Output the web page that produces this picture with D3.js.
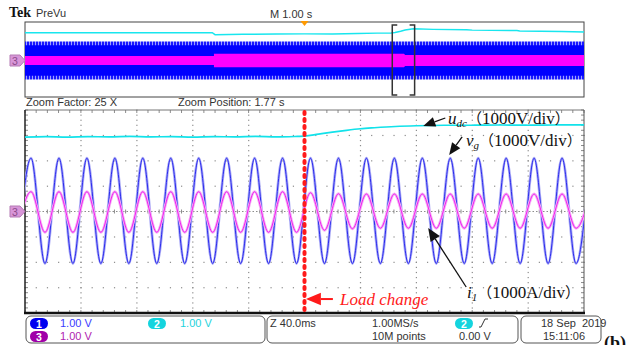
<!DOCTYPE html>
<html>
<head>
<meta charset="utf-8">
<script src="https://cdn.jsdelivr.net/npm/d3@7"></script>
<style>
  body { margin: 0; background: #fff; }
  svg { display: block; }
</style>
</head>
<body>
<svg id="chart" width="630" height="345" font-family="Liberation Sans, Arial, sans-serif"></svg>
<script>
// ---- data (time in ms for the zoom window, s for the overview; values in divisions) ----
// extrema of each half cycle, first one is the trough at -5.7 ms, then every 10 ms
const extremaStart = -5.7;
const halfPeriod = 10;
const vgExtrema = [-2.05, 2.1, -2.05, 2.1, -2.05, 2.1, -2.05, 2.1, -2.05, 2.1,
                   -2.05, 2.1, -2.05, 2.1, -2.05, 2.1, -2.05, 2.1, -2.05, 2.1,
                   -2.05, 2.1, -2.05, 2.1, -2.05, 2.1, -2.05, 2.1, -2.05, 2.1,
                   -2.05, 2.1, -2.05, 2.1, -2.05, 2.1, -2.05, 2.1, -2.05, 2.1,
                   -2.05, 2.1];
const i1Extrema = [-0.82, 0.78, -0.82, 0.78, -0.82, 0.78, -0.82, 0.78, -0.82, 0.78,
                   -0.82, 0.78, -0.82, 0.78, -0.82, 0.78, -0.82, 0.78, -0.82, 0.78,
                   -0.82, 0.74, -0.74, 0.7, -0.68, 0.69, -0.66, 0.69, -0.66, 0.69,
                   -0.66, 0.69, -0.66, 0.69, -0.66, 0.69, -0.66, 0.69, -0.66, 0.69,
                   -0.66, 0.69];
const udcTime = [0, 15, 30, 45, 60, 75, 90, 105, 120, 135, 150, 165, 180, 195,
                 200, 210, 220, 230, 240, 250, 265, 280, 300, 320, 340, 360, 380, 400];
const udcValue = [2.93, 2.95, 2.93, 2.95, 2.94, 2.96, 2.94, 2.95, 2.93, 2.95, 2.94, 2.96, 2.94, 2.96,
                  2.97, 3.05, 3.13, 3.2, 3.26, 3.3, 3.35, 3.38, 3.4, 3.4, 3.41, 3.4, 3.41, 3.41];
const loadChangeTime = 200;

// overview (PreVu) record, 0..10 s
const ovUdcTime = [0, 3.35, 3.4, 3.9, 4.5, 5.0, 5.5, 5.95, 6.3, 6.55, 6.62, 6.72, 6.8, 6.95,
                   7.3, 7.9, 8.0, 8.8, 8.85, 9.6, 10];
const ovUdcValue = [2.96, 2.96, 2.76, 2.8, 2.82, 2.84, 2.84, 2.88, 2.92, 2.94, 2.98, 3.12, 3.26, 3.38,
                    3.32, 3.28, 3.24, 3.2, 3.15, 3.1, 3.05];
const ovVgTime = [0, 10];
const ovVgAmp = [2.03, 2.03];
const ovI1Time = [0, 3.38, 3.38, 6.78, 6.8, 10];
const ovI1Amp = [0.47, 0.47, 0.72, 0.72, 0.58, 0.58];
const zoomWindow = [6.57, 6.97];
const triggerTime = 5.0;

// readout texts
const chanScales = ["1.00 V", "1.00 V", "1.00 V"];
const timeTexts = ["Z 40.0ms", "1.00MS/s", "10M points", "0.00 V"];
const dateTexts = ["18 Sep  2019", "15:11:06"];

const SERIF = "Liberation Serif, Times New Roman, serif";
const CJK = "Noto Sans CJK SC, sans-serif";

// ---- layout ----
const svg = d3.select("#chart");
const plot = {left: 25, right: 584, top: 110, bottom: 313};
const x = d3.scaleLinear().domain([0, 400]).range([plot.left, plot.right]);
const y = d3.scaleLinear().domain([-4, 4]).range([plot.bottom, plot.top]);
const ox = d3.scaleLinear().domain([0, 10]).range([plot.left, plot.right]);
const oy = d3.scaleLinear().domain([-4, 4]).range([98, 23]);

const defs = svg.append("defs");
defs.append("clipPath").attr("id", "clipMain")
  .append("rect").attr("x", plot.left).attr("y", plot.top)
  .attr("width", plot.right - plot.left).attr("height", plot.bottom - plot.top);
const stripes = defs.append("pattern").attr("id", "stripes")
  .attr("width", 3).attr("height", 4).attr("patternUnits", "userSpaceOnUse");
stripes.append("rect").attr("width", 3).attr("height", 4).attr("fill", "#a0a0ff");
stripes.append("rect").attr("width", 2).attr("height", 4).attr("fill", "#1818ff");

// ---- header ----
svg.append("text").attr("x", 9).attr("y", 17).attr("font-family", SERIF)
  .attr("font-weight", "bold").attr("font-size", 14).attr("fill", "#111").text("Tek");
svg.append("text").attr("x", 36).attr("y", 17).attr("font-size", 11).attr("fill", "#333").text("PreVu");
svg.append("text").attr("x", 270).attr("y", 18).attr("font-size", 11).attr("fill", "#333").text("M 1.00 s");

// ---- overview ----
const ov = svg.append("g");
ov.append("rect").attr("x", plot.left).attr("y", 22).attr("width", plot.right - plot.left).attr("height", 75)
  .attr("fill", "#fff").attr("stroke", "#444").attr("stroke-width", 1);

const ovVgData = ovVgTime.map((t, i) => ({t, a: ovVgAmp[i]}));
ov.append("path").datum(ovVgData).attr("fill", "url(#stripes)")
  .attr("d", d3.area().x(d => ox(d.t)).y0(d => oy(-d.a)).y1(d => oy(d.a)));
ov.append("path").datum(ovVgData).attr("fill", "#0000ff")
  .attr("d", d3.area().x(d => ox(d.t)).y0(d => oy(-d.a + 0.4)).y1(d => oy(d.a - 0.4)));

const ovI1Data = ovI1Time.map((t, i) => ({t, a: ovI1Amp[i]}));
ov.append("path").datum(ovI1Data).attr("fill", "#ff00ff")
  .attr("d", d3.area().x(d => ox(d.t)).y0(d => oy(-d.a)).y1(d => oy(d.a)));

const ovUdcData = ovUdcTime.map((t, i) => ({t, v: ovUdcValue[i]}));
ov.append("path").datum(ovUdcData).attr("fill", "none").attr("stroke", "#18e6ee").attr("stroke-width", 1.5)
  .attr("d", d3.line().x(d => ox(d.t)).y(d => oy(d.v)));

// zoom bracket
zoomWindow.forEach((t, i) => {
  const bx = ox(t), dir = i === 0 ? 1 : -1;
  ov.append("path").attr("fill", "none").attr("stroke", "#333").attr("stroke-width", 1.5)
    .attr("d", `M${bx + dir * 5},25H${bx}V95H${bx + dir * 5}`);
});
// trigger marker
const tx = ox(triggerTime);
ov.append("path").attr("fill", "#ff9a00").attr("d", `M${tx - 4},21L${tx + 4},21L${tx},26Z`);

function chanMarker(cy) {
  svg.append("path").attr("fill", "#d896d8").attr("stroke", "#b47ab4")
    .attr("d", `M10,${cy - 5.5}H20L25,${cy}L20,${cy + 5.5}H10Z`);
  svg.append("text").attr("x", 15).attr("y", cy + 4).attr("text-anchor", "middle")
    .attr("font-size", 10.5).attr("fill", "#8a4a8a").text("3");
}
chanMarker(oy(0));

svg.append("text").attr("x", 26).attr("y", 106).attr("font-size", 11).attr("fill", "#333").text("Zoom Factor: 25 X");
svg.append("text").attr("x", 178).attr("y", 106).attr("font-size", 11).attr("fill", "#333").text("Zoom Position: 1.77 s");

// ---- main graticule ----
const grid = svg.append("g");
const minorX = d3.range(0, 400.001, 8);
const minorY = d3.range(-4, 4.001, 0.2);
const majorX = d3.range(40, 361, 40).filter(t => t !== 200);
const majorY = [-3, -2, -1, 1, 2, 3];
const gridCol = "#8c8c8c";

majorX.forEach(t => {
  grid.selectAll(null).data(minorY).enter().append("rect")
    .attr("x", x(t) - 0.5).attr("y", d => y(d) - 0.5).attr("width", 1.2).attr("height", 1.2).attr("fill", gridCol);
});
majorY.forEach(v => {
  grid.selectAll(null).data(minorX).enter().append("rect")
    .attr("x", d => x(d) - 0.5).attr("y", y(v) - 0.5).attr("width", 1.2).attr("height", 1.2).attr("fill", gridCol);
});
// centre lines
grid.append("line").attr("x1", plot.left).attr("x2", plot.right).attr("y1", y(0)).attr("y2", y(0))
  .attr("stroke", gridCol).attr("stroke-dasharray", "1.5,2");
grid.selectAll(null).data(minorX).enter().append("line")
  .attr("x1", d => x(d)).attr("x2", d => x(d)).attr("y1", y(0) - 2).attr("y2", y(0) + 2).attr("stroke", gridCol);
grid.append("line").attr("x1", x(200)).attr("x2", x(200)).attr("y1", plot.top).attr("y2", plot.bottom)
  .attr("stroke", gridCol).attr("stroke-dasharray", "1.5,2");
// border ticks
grid.selectAll(null).data(minorX).enter().append("line")
  .attr("x1", d => x(d)).attr("x2", d => x(d)).attr("y1", plot.top).attr("y2", plot.top + 3).attr("stroke", gridCol);
grid.selectAll(null).data(minorX).enter().append("line")
  .attr("x1", d => x(d)).attr("x2", d => x(d)).attr("y1", plot.bottom - 3).attr("y2", plot.bottom).attr("stroke", gridCol);
grid.selectAll(null).data(minorY).enter().append("line")
  .attr("x1", plot.left).attr("x2", plot.left + 3).attr("y1", d => y(d)).attr("y2", d => y(d)).attr("stroke", gridCol);
grid.selectAll(null).data(minorY).enter().append("line")
  .attr("x1", plot.right - 3).attr("x2", plot.right).attr("y1", d => y(d)).attr("y2", d => y(d)).attr("stroke", gridCol);
// frame
grid.append("line").attr("x1", plot.left).attr("x2", plot.right).attr("y1", plot.top).attr("y2", plot.top).attr("stroke", "#777");
grid.append("line").attr("x1", plot.right).attr("x2", plot.right).attr("y1", plot.top).attr("y2", plot.bottom).attr("stroke", "#555");
grid.append("line").attr("x1", plot.left).attr("x2", plot.left).attr("y1", plot.top).attr("y2", plot.bottom)
  .attr("stroke", "#222").attr("stroke-width", 1.5);
grid.append("line").attr("x1", plot.left - 1).attr("x2", plot.right + 1).attr("y1", plot.bottom).attr("y2", plot.bottom)
  .attr("stroke", "#111").attr("stroke-width", 2.5);

chanMarker(y(0));

// ---- traces ----
const traces = svg.append("g").attr("clip-path", "url(#clipMain)");
const waveLine = d3.line().x(d => x(d.t)).y(d => y(d.v)).curve(d3.curveMonotoneX);
function extremaPoints(arr) {
  return arr.map((v, i) => ({t: extremaStart + i * halfPeriod, v}));
}
function drawWave(arr, light, dark) {
  const pts = extremaPoints(arr);
  traces.append("path").datum(pts).attr("fill", "none").attr("stroke", light).attr("stroke-width", 2.8).attr("d", waveLine);
  traces.append("path").datum(pts).attr("fill", "none").attr("stroke", dark).attr("stroke-width", 1).attr("d", waveLine);
}
drawWave(vgExtrema, "#aeaef6", "#2a2aee");
drawWave(i1Extrema, "#f6b0f6", "#f020f0");

const udcData = udcTime.map((t, i) => ({t, v: udcValue[i]}));
traces.append("path").datum(udcData).attr("fill", "none").attr("stroke", "#12e2ea").attr("stroke-width", 1.7)
  .attr("d", d3.line().x(d => x(d.t)).y(d => y(d.v)).curve(d3.curveMonotoneX));

// load change marker
svg.append("line").attr("x1", x(loadChangeTime)).attr("x2", x(loadChangeTime))
  .attr("y1", plot.top + 2).attr("y2", plot.bottom)
  .attr("stroke", "#ff1a1a").attr("stroke-width", 4).attr("stroke-linecap", "round").attr("stroke-dasharray", "2,5");

// ---- annotations ----
function arrow(x1, y1, x2, y2, color, head, width) {
  const a = Math.atan2(y2 - y1, x2 - x1);
  const bx = x2 - head * Math.cos(a), by = y2 - head * Math.sin(a);
  const w = head * 0.42;
  svg.append("line").attr("x1", x1).attr("y1", y1).attr("x2", bx).attr("y2", by)
    .attr("stroke", color).attr("stroke-width", width);
  svg.append("path").attr("fill", color)
    .attr("d", `M${x2},${y2}L${bx - w * Math.sin(a)},${by + w * Math.cos(a)}L${bx + w * Math.sin(a)},${by - w * Math.cos(a)}Z`);
}
function label(lx, ly, main, sub, scale) {
  const t = svg.append("text").attr("x", lx).attr("y", ly).attr("fill", "#111")
    .attr("font-family", SERIF).attr("font-size", 17);
  t.append("tspan").attr("font-style", "italic").text(main);
  t.append("tspan").attr("font-style", "italic").attr("font-size", 11).attr("dy", 3).text(sub);
  t.append("tspan").attr("dy", -3).attr("font-family", CJK).attr("font-size", 15).text("（");
  t.append("tspan").text(scale);
  t.append("tspan").attr("font-family", CJK).attr("font-size", 15).text("）");
}
arrow(x(285) + 22, y(3.37) - 8, x(285), y(3.37), "#111", 12, 1.3);
label(448, 124, "u", "dc", "1000V/div");
arrow(x(303.5) + 13, y(2.23) - 18, x(303.5), y(2.23), "#111", 12, 1.3);
label(466, 146, "v", "g", "1000V/div");
arrow(x(288.5) + 38, y(-0.65) + 59, x(288.5), y(-0.65), "#111", 13, 1.3);
label(467, 298, "i", "1", "1000A/div");

arrow(x(201) + 27, y(-3.45), x(201), y(-3.45), "#ff1a1a", 15, 2);
svg.append("text").attr("x", 340).attr("y", 305).attr("fill", "#ff1a1a")
  .attr("font-family", SERIF).attr("font-style", "italic")
  .attr("font-size", 17).text("Load change");

// ---- readout panel ----
const boxes = [[26, 265], [267, 518], [521, 601]];
boxes.forEach(b => {
  svg.append("rect").attr("x", b[0]).attr("y", 316).attr("width", b[1] - b[0]).attr("height", 27)
    .attr("rx", 5).attr("fill", "#fff").attr("stroke", "#555").attr("stroke-width", 1);
});
function pill(px, py, num, fill) {
  svg.append("rect").attr("x", px).attr("y", py).attr("width", 18).attr("height", 11).attr("rx", 5.5).attr("fill", fill);
  svg.append("text").attr("x", px + 9).attr("y", py + 9.5).attr("text-anchor", "middle")
    .attr("font-size", 10.5).attr("font-weight", "bold").attr("fill", "#fff").text(num);
}
const chanCols = ["#3c3cff", "#1fd3dc", "#b01cb0"];
pill(30, 318, "1", "#0000f0");
pill(30, 331, "3", "#a000a8");
pill(148, 318, "2", "#14d4de");
svg.append("text").attr("x", 60).attr("y", 327).attr("font-size", 11).attr("fill", chanCols[0]).text(chanScales[0]);
svg.append("text").attr("x", 180).attr("y", 327).attr("font-size", 11).attr("fill", chanCols[1]).text(chanScales[1]);
svg.append("text").attr("x", 60).attr("y", 340).attr("font-size", 11).attr("fill", chanCols[2]).text(chanScales[2]);

svg.append("text").attr("x", 270).attr("y", 327).attr("font-size", 11).attr("fill", "#333").text(timeTexts[0]);
svg.append("text").attr("x", 372).attr("y", 327).attr("font-size", 11).attr("fill", "#333").text(timeTexts[1]);
svg.append("text").attr("x", 372).attr("y", 340).attr("font-size", 11).attr("fill", "#333").text(timeTexts[2]);
pill(455, 318, "2", "#14d4de");
svg.append("path").attr("fill", "none").attr("stroke", "#333").attr("stroke-width", 1)
  .attr("d", "M479,327H481L485,319H488");
svg.append("text").attr("x", 459).attr("y", 340).attr("font-size", 11).attr("fill", "#333").text(timeTexts[3]);

svg.append("text").attr("x", 541).attr("y", 327).attr("font-size", 11).attr("fill", "#333")
  .attr("xml:space", "preserve").text(dateTexts[0]);
svg.append("text").attr("x", 543).attr("y", 340).attr("font-size", 11).attr("fill", "#333").text(dateTexts[1]);

svg.append("text").attr("x", 604).attr("y", 349).attr("font-family", SERIF)
  .attr("font-weight", "bold").attr("font-size", 18).attr("fill", "#111").text("(b)");
</script>
</body>
</html>
